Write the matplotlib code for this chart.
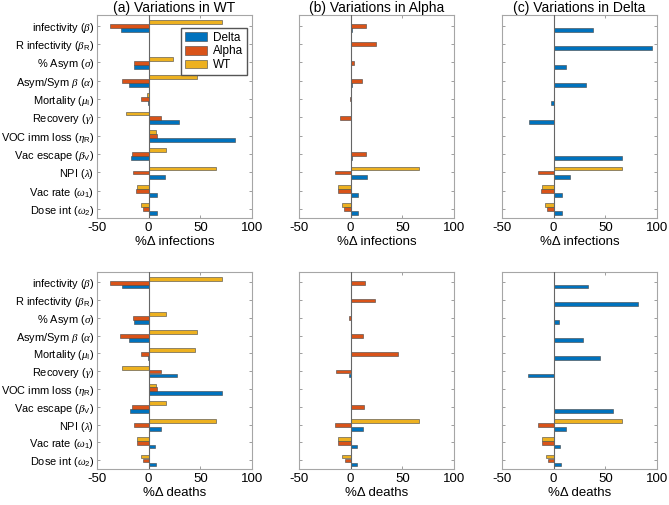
import matplotlib.pyplot as plt
import numpy as np

plt.rcParams['font.family'] = ['Liberation Sans', 'DejaVu Sans']
plt.rcParams['mathtext.fontset'] = 'custom'
plt.rcParams['mathtext.rm'] = 'Liberation Sans'
plt.rcParams['mathtext.it'] = 'Liberation Serif:italic'
plt.rcParams['axes.unicode_minus'] = False

params = [r'infectivity ($\beta$)', r'R infectivity ($\beta_{\rm R}$)', r'% Asym ($\sigma$)',
          r'Asym/Sym $\beta$ ($\alpha$)', r'Mortality ($\mu_{\rm I}$)', r'Recovery ($\gamma$)',
          r'VOC imm loss ($\eta_{\rm R}$)', r'Vac escape ($\beta_{\rm V}$)', r'NPI ($\lambda$)',
          r'Vac rate ($\omega_1$)', r'Dose int ($\omega_2$)']
variants = ['Delta', 'Alpha', 'WT']
colors = ['#0072BD', '#D95319', '#EDB120']

# % change in infections, one list per variant (Delta, Alpha, WT)
inf_wt = [[-27, 0, -14.5, -19, -1, 29, 84, -17.4, 16, 7.7, 7.7],
          [-37, 0, -14.5, -26, -7.5, 12, 8.4, -16, -15, -12, -5.8],
          [71, 0, 23.5, 47, -2, -22, 7, 17, 65, -11, -7.7]]
inf_alpha = [[1.3, 0, 0, 1.3, 0, 0, 0, 1, 16, 7.5, 7.5],
             [14.4, 24.5, 3.6, 10.5, -1, -10.8, 0, 14.4, -15.4, -12.4, -6.5],
             [0, 0, 0, 0, 0, 0, 0, 0, 66, -11.8, -8.2]]
inf_delta = [[38, 95, 12, 31, -2.3, -23.5, 0, 66, 16, 8, 8],
             [0, 0, 0, 0, 0, 0, 0, 0, -15, -12, -6],
             [0, 0, 0, 0, 0, 0, 0, 0, 66, -11, -8]]

# % change in deaths
dth_wt = [[-26, 0, -14.5, -19.4, -0.6, 27, 70.6, -18.4, 12, 6, 6.8],
          [-37, 0, -15.5, -28, -7.7, 12.3, 8, -16, -14.5, -11.6, -5.8],
          [71, 0, 16.8, 47, 44.5, -26, 7, 16.8, 65.5, -11.3, -7.7]]
dth_alpha = [[0, 0, 0, 0, 0, -2, 0, 0, 11.8, 6.2, 6.5],
             [14, 24, -2, 11.8, 46, -14, 0, 13, -15, -11.8, -5.9],
             [0, 0, 0, 0, 0, 0, 0, 0, 66, -11.8, -8.2]]
dth_delta = [[33.7, 82, 4.9, 28, 44.8, -24.8, 0, 57, 12, 6.5, 6.9],
             [0, 0, 0, 0, 0, 0, 0, 0, -15, -11, -5.6],
             [0, 0, 0, 0, 0, 0, 0, 0, 66, -11, -7.8]]

titles = ['(a) Variations in WT', '(b) Variations in Alpha', '(c) Variations in Delta']

fig = plt.figure(figsize=(6.69, 5.05), dpi=100)
W, H = 669, 505
lefts = [97, 299, 502]
rows = [(15, 218, inf_wt, inf_alpha, inf_delta, 'infections'),
        (272, 469, dth_wt, dth_alpha, dth_delta, 'deaths')]

y = np.arange(1, len(params) + 1)
offsets = [0.24, 0.02, -0.2]
bh = 0.21

for r, (top, bot, d1, d2, d3, lab) in enumerate(rows):
    for c, data in enumerate([d1, d2, d3]):
        ax = fig.add_axes([lefts[c] / W, 1 - bot / H, 155 / W, (bot - top) / H])
        for k in range(3):
            ax.barh(y + offsets[k], data[k], height=bh, color=colors[k],
                    edgecolor='#444444', linewidth=0.4, label=variants[k], zorder=2)
        ax.axvline(0, color='#666666', linewidth=0.8, zorder=3)
        ax.set_xlim(-50, 100)
        ax.set_ylim(11.5, 0.42)
        ax.set_xticks([-50, 0, 50, 100])
        ax.set_yticks(y)
        if c == 0:
            ax.set_yticklabels(params, fontsize=7.9)
        else:
            ax.set_yticklabels([])
        ax.tick_params(direction='in', length=2.5, width=0.5, color='#777777',
                       top=True, right=True, pad=3)
        ax.tick_params(axis='y', pad=2)
        ax.tick_params(axis='x', labelsize=9.5)
        ax.set_xlabel('%\u0394 ' + lab, fontsize=9.5, labelpad=1)
        for s in ax.spines.values():
            s.set_color('#a6a6a6')
            s.set_linewidth(0.8)
        if r == 0:
            ax.set_title(titles[c], fontsize=10, pad=2)
            if c == 0:
                h, l = ax.get_legend_handles_labels()
                ax.legend(h, l, loc='upper right', bbox_to_anchor=(0.968, 0.936),
                          fontsize=8.5, handlelength=1.9, handleheight=0.75,
                          borderaxespad=0, labelspacing=0.15, borderpad=0.3,
                          handletextpad=0.5, fancybox=False, edgecolor='#555555',
                          framealpha=1)

fig.savefig('out.png', dpi=100)
